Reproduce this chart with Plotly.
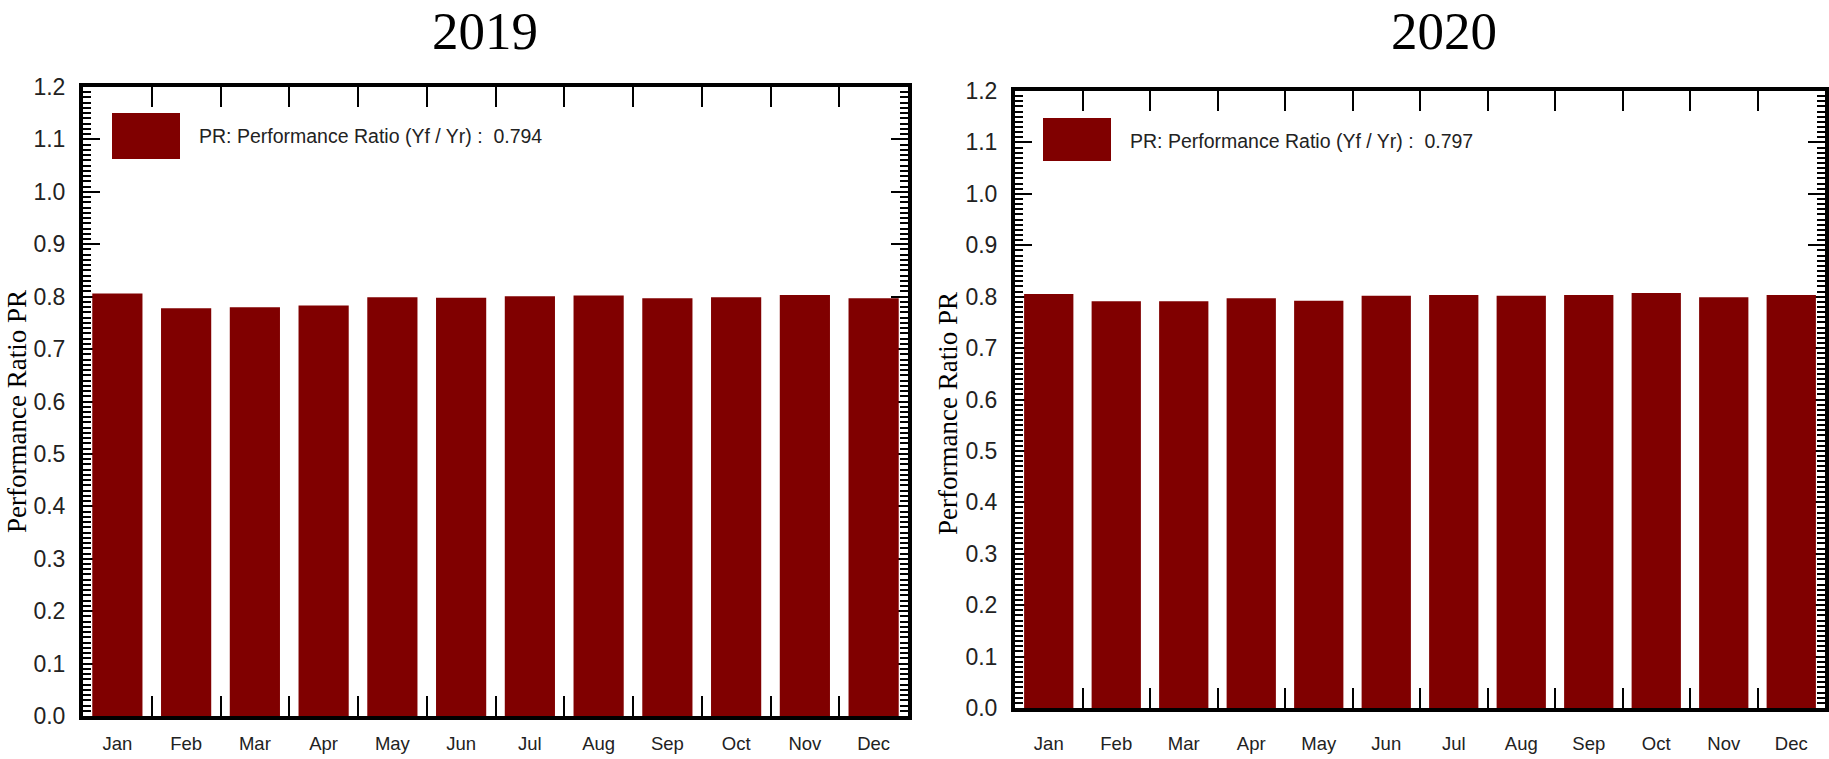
import plotly.graph_objects as go

# ---- data ----
months = ["Jan", "Feb", "Mar", "Apr", "May", "Jun", "Jul", "Aug", "Sep", "Oct", "Nov", "Dec"]
pr_2019 = [0.806, 0.778, 0.780, 0.783, 0.799, 0.798, 0.801, 0.802, 0.797, 0.799, 0.803, 0.797]
pr_2020 = [0.805, 0.791, 0.791, 0.797, 0.792, 0.802, 0.803, 0.802, 0.803, 0.807, 0.799, 0.803]
years = ["2019", "2020"]
pr_annual = [0.794, 0.797]
y_ticks = [round(i * 0.1, 1) for i in range(13)]

W, H = 1829, 759
BAR = "#800000"
SANS = "Liberation Sans, Arial, sans-serif"
SERIF = "Liberation Serif, Times New Roman, serif"


def px(x):
    return x / W


def py(y):
    return 1 - y / H


fig = go.Figure()
fig.add_trace(go.Bar(x=months, y=pr_2019, xaxis="x", yaxis="y",
                     marker=dict(color=BAR, line=dict(width=0)), showlegend=False))
fig.add_trace(go.Bar(x=months, y=pr_2020, xaxis="x2", yaxis="y2",
                     marker=dict(color=BAR, line=dict(width=0)), showlegend=False))


def xax(domain, anchor, standoff):
    return dict(domain=domain, anchor=anchor, type="category",
                tickson="boundaries", ticks="inside", ticklen=20, tickwidth=2,
                tickcolor="black", showline=True, linewidth=4, linecolor="black",
                mirror="ticks", layer="below traces", showgrid=False,
                automargin=False, ticklabelstandoff=standoff,
                tickfont=dict(family=SANS, size=18.5, color="#222"))


def yax(domain, anchor):
    return dict(domain=domain, anchor=anchor, range=[0, 1.2],
                tickvals=y_ticks, ticktext=[f"{v:.1f}" for v in y_ticks],
                ticks="inside", ticklen=17, tickwidth=2, tickcolor="black",
                minor=dict(dtick=0.01, ticks="inside", ticklen=8, tickwidth=2,
                           tickcolor="black"),
                showline=True, linewidth=4, linecolor="black", mirror="ticks",
                layer="below traces", showgrid=False, zeroline=False,
                automargin=False, ticklabelstandoff=9,
                tickfont=dict(family=SANS, size=23, color="#222"))


panels = [
    dict(l=83, r=908, t=87, b=716, title_x=485, ytitle_x=0, ytitle_y=412,
         rect=(112, 113, 180, 159), text_x=197, text_y=136, standoff=8),
    dict(l=1015, r=1825, t=91, b=708, title_x=1444, ytitle_x=931, ytitle_y=414,
         rect=(1043, 118, 1111, 161), text_x=1128, text_y=141, standoff=16),
]

layout = dict(width=W, height=H, margin=dict(l=0, r=0, t=0, b=0),
              paper_bgcolor="white", plot_bgcolor="white", bargap=0.27,
              showlegend=False)

annotations = []
shapes = []
for i, p in enumerate(panels):
    sfx = "" if i == 0 else str(i + 1)
    layout["xaxis" + sfx] = xax([px(p["l"]), px(p["r"])], "y" + sfx, p["standoff"])
    layout["yaxis" + sfx] = yax([py(p["b"]), py(p["t"])], "x" + sfx)
    annotations.append(dict(text=years[i], x=px(p["title_x"]), y=1,
                            xref="paper", yref="paper", showarrow=False,
                            xanchor="center", yanchor="top",
                            font=dict(family=SERIF, size=53, color="black")))
    annotations.append(dict(text="Performance Ratio PR", x=px(p["ytitle_x"]),
                            y=py(p["ytitle_y"]), xref="paper", yref="paper",
                            showarrow=False, textangle=-90, xanchor="left",
                            yanchor="middle",
                            font=dict(family=SERIF, size=27, color="black")))
    x0, y0, x1, y1 = p["rect"]
    shapes.append(dict(type="rect", xref="paper", yref="paper",
                       x0=px(x0), x1=px(x1), y0=py(y1), y1=py(y0),
                       fillcolor=BAR, line=dict(width=0)))
    annotations.append(dict(text=f"PR: Performance Ratio (Yf / Yr) :  {pr_annual[i]:.3f}",
                            x=px(p["text_x"]), y=py(p["text_y"]), xref="paper",
                            yref="paper", showarrow=False, xanchor="left",
                            yanchor="middle",
                            font=dict(family=SANS, size=19.5, color="#222")))

layout["annotations"] = annotations
layout["shapes"] = shapes
fig.update_layout(**layout)
fig.write_html("out.html",
               config={"displayModeBar": False},
               post_script="document.body.style.margin='0px';"
                           "document.body.style.overflow='hidden';")
